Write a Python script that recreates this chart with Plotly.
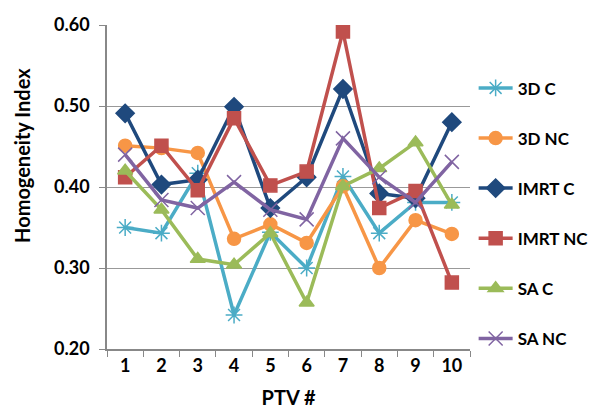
import plotly.graph_objects as go

ptv = ["1", "2", "3", "4", "5", "6", "7", "8", "9", "10"]
d3_c = [0.350, 0.343, 0.417, 0.242, 0.344, 0.300, 0.413, 0.343, 0.381, 0.381]
d3_nc = [0.451, 0.448, 0.442, 0.336, 0.354, 0.331, 0.401, 0.300, 0.359, 0.342]
imrt_c = [0.491, 0.403, 0.409, 0.499, 0.374, 0.412, 0.521, 0.392, 0.386, 0.480]
imrt_nc = [0.412, 0.451, 0.396, 0.485, 0.402, 0.419, 0.592, 0.374, 0.395, 0.282]
sa_c = [0.420, 0.372, 0.311, 0.304, 0.343, 0.257, 0.401, 0.423, 0.455, 0.378]
sa_nc = [0.440, 0.384, 0.374, 0.406, 0.372, 0.360, 0.460, 0.412, 0.381, 0.431]

series = [
    ("3D C", d3_c, "#4BACC6", "asterisk-open", 14),
    ("3D NC", d3_nc, "#F79646", "circle", 13),
    ("IMRT C", imrt_c, "#1F497D", "diamond", 14),
    ("IMRT NC", imrt_nc, "#C0504D", "square", 13),
    ("SA C", sa_c, "#9BBB59", "triangle-up", 13),
    ("SA NC", sa_nc, "#8064A2", "x-thin-open", 14),
]

font_family = "Lato, 'Open Sans', Arial, sans-serif"

fig = go.Figure()
for name, vals, color, sym, size in series:
    fig.add_trace(go.Scatter(
        x=ptv, y=vals, name=name, mode="lines+markers",
        legendgroup=name,
        line=dict(color=color, width=3.5),
        marker=dict(symbol=sym, size=size, color=color,
                    line=dict(color=color, width=1.5)),
    ))

fig.update_layout(
    width=606, height=415,
    margin=dict(l=107, r=132, t=25, b=66),
    paper_bgcolor="white", plot_bgcolor="white",
    font=dict(family=font_family, size=15, color="black"),
    showlegend=True,
    legend=dict(
        x=1.01, y=0.86, xanchor="left", yanchor="top",
        font=dict(family=font_family, size=17, color="black", weight="bold"),
        tracegroupgap=25, itemwidth=34,
        bgcolor="rgba(0,0,0,0)",
    ),
    xaxis=dict(
        type="category",
        range=[-0.5, 9.5],
        automargin=False,
        showline=True, linecolor="#888888", linewidth=1.5,
        ticks="outside", tickson="boundaries", ticklen=6, tickcolor="#888888",
        tickfont=dict(family=font_family, size=18, color="black", weight="bold"),
        title=dict(text="PTV #", font=dict(family=font_family, size=20, color="black", weight="bold"), standoff=16),
        showgrid=False,
    ),
    yaxis=dict(
        range=[0.2, 0.6],
        tickvals=[0.2, 0.3, 0.4, 0.5, 0.6],
        tickformat=".2f",
        automargin=False,
        showline=True, linecolor="#888888", linewidth=1.5,
        ticks="outside", ticklen=6, tickcolor="#888888",
        ticklabelstandoff=6,
        showgrid=True, gridcolor="#999999", gridwidth=1.2,
        zeroline=False,
        tickfont=dict(family=font_family, size=18, color="black", weight="bold"),
    ),
    annotations=[dict(
        text="Homogeneity Index", textangle=-90,
        xref="paper", yref="paper", x=-0.234, y=0.596,
        xanchor="center", yanchor="middle", showarrow=False,
        font=dict(family=font_family, size=20, color="black", weight="bold"),
    )],
)

fig.write_html("out.html")
